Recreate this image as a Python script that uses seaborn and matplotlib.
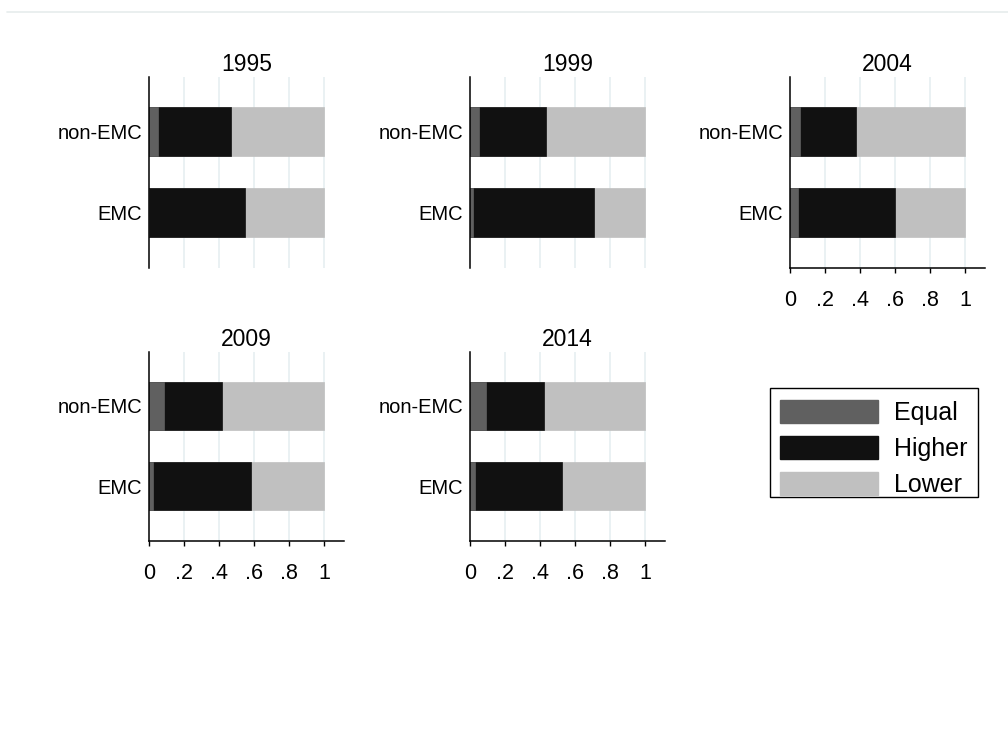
import numpy as np
import pandas as pd
import matplotlib
matplotlib.use("Agg")
from matplotlib import pyplot as plt
from matplotlib.patches import Patch, Rectangle
from matplotlib.lines import Line2D
import seaborn as sns

# shares
years = ["1995", "1999", "2004", "2009", "2014"]
groups = ["non-EMC", "EMC"]
equal_nonemc = [0.050, 0.054, 0.057, 0.088, 0.092]
higher_nonemc = [0.420, 0.380, 0.318, 0.329, 0.332]
lower_nonemc = [0.530, 0.566, 0.625, 0.583, 0.576]
equal_emc = [0.000, 0.015, 0.044, 0.023, 0.031]
higher_emc = [0.550, 0.691, 0.555, 0.560, 0.495]
lower_emc = [0.450, 0.294, 0.401, 0.417, 0.474]

col_equal = "#606060"
col_higher = "#111111"
col_lower = "#c0c0c0"
grid_col = "#e4eef0"

sns.set_theme(style="white")
plt.rcParams['font.family'] = ['Liberation Sans', 'DejaVu Sans']
plt.rcParams['text.color'] = 'black'
plt.rcParams['xtick.color'] = 'black'
plt.rcParams['ytick.color'] = 'black'
plt.rcParams['axes.titlecolor'] = 'black'

rows = []
for i, y in enumerate(years):
    rows.append(dict(year=y, group="non-EMC", equal=equal_nonemc[i],
                     higher=higher_nonemc[i], lower=lower_nonemc[i]))
    rows.append(dict(year=y, group="EMC", equal=equal_emc[i],
                     higher=higher_emc[i], lower=lower_emc[i]))
df = pd.DataFrame(rows)
df["c_equal"] = df["equal"]
df["c_higher"] = df["equal"] + df["higher"]
df["c_lower"] = df["equal"] + df["higher"] + df["lower"]

W, H = 1008, 742
fig = plt.figure(figsize=(W / 100, H / 100), dpi=100)

# panel pixel boxes
col_x = [149, 470, 790]
row_y = [(77, 268), (352, 541)]
panel_pos = [(0, 0), (0, 1), (0, 2), (1, 0), (1, 1)]
show_x = [False, False, True, True, True]

for k, yr in enumerate(years):
    r, c = panel_pos[k]
    left = col_x[c]
    top, bot = row_y[r]
    ax = fig.add_axes([left / W, 1 - bot / H, 195 / W, (bot - top) / H])
    sub = df[df["year"] == yr]
    # stacked: draw the running totals from the longest down
    for colname, color in [("c_lower", col_lower), ("c_higher", col_higher),
                           ("c_equal", col_equal)]:
        sns.barplot(data=sub, x=colname, y="group", order=groups, orient="h",
                    color=color, saturation=1, width=0.6, ax=ax,
                    edgecolor=color, linewidth=0.5)
    for gx in [0.2, 0.4, 0.6, 0.8, 1.0]:
        ax.axvline(gx, color=grid_col, lw=1.1, zorder=0)
    ax.set_axisbelow(True)
    ax.set_xlim(0, 1.112)
    ax.set_ylim(1.68, -0.67)
    ax.set_xlabel("")
    ax.set_ylabel("")
    ax.set_title(yr, fontsize=16.5, pad=4)
    for s in ["top", "right"]:
        ax.spines[s].set_visible(False)
    ax.spines["left"].set_color("black")
    ax.spines["left"].set_linewidth(1.1)
    ax.tick_params(axis="y", length=0, pad=5, labelsize=14.5)
    if show_x[k]:
        ax.spines["bottom"].set_color("black")
        ax.spines["bottom"].set_linewidth(1.1)
        ax.set_xticks([0, 0.2, 0.4, 0.6, 0.8, 1.0])
        ax.set_xticklabels(["0", ".2", ".4", ".6", ".8", "1"])
        ax.tick_params(axis="x", length=3.5, width=1, color="black",
                       pad=12, labelsize=15.5, bottom=True)
    else:
        ax.spines["bottom"].set_visible(False)
        ax.set_xticks([0.2, 0.4, 0.6, 0.8, 1.0])
        ax.set_xticklabels([])
        ax.tick_params(axis="x", length=0)

# faint line along the top of the picture
fig.add_artist(Line2D([7 / W, 1], [1 - 12 / H, 1 - 12 / H], color="#e6ecec",
                      lw=1.2, transform=fig.transFigure))

handles = [Patch(facecolor=col_equal, edgecolor=col_equal, label="Equal"),
           Patch(facecolor=col_higher, edgecolor=col_higher, label="Higher"),
           Patch(facecolor=col_lower, edgecolor=col_lower, label="Lower")]
leg = fig.legend(handles=handles, loc="upper left",
                 bbox_to_anchor=(769 / W, 1 - 389 / H), fontsize=18,
                 frameon=False, handlelength=3.9,
                 handleheight=1.0, labelspacing=0.45, borderpad=0.45,
                 handletextpad=0.64, borderaxespad=0)

# legend box drawn by hand (the padding below the last key is tight)
fig.add_artist(Rectangle((770 / W, 1 - 497 / H), 208 / W, 109 / H,
                         transform=fig.transFigure, fill=False,
                         edgecolor="black", lw=1))

plt.savefig("out.png", dpi=100, facecolor="white")
